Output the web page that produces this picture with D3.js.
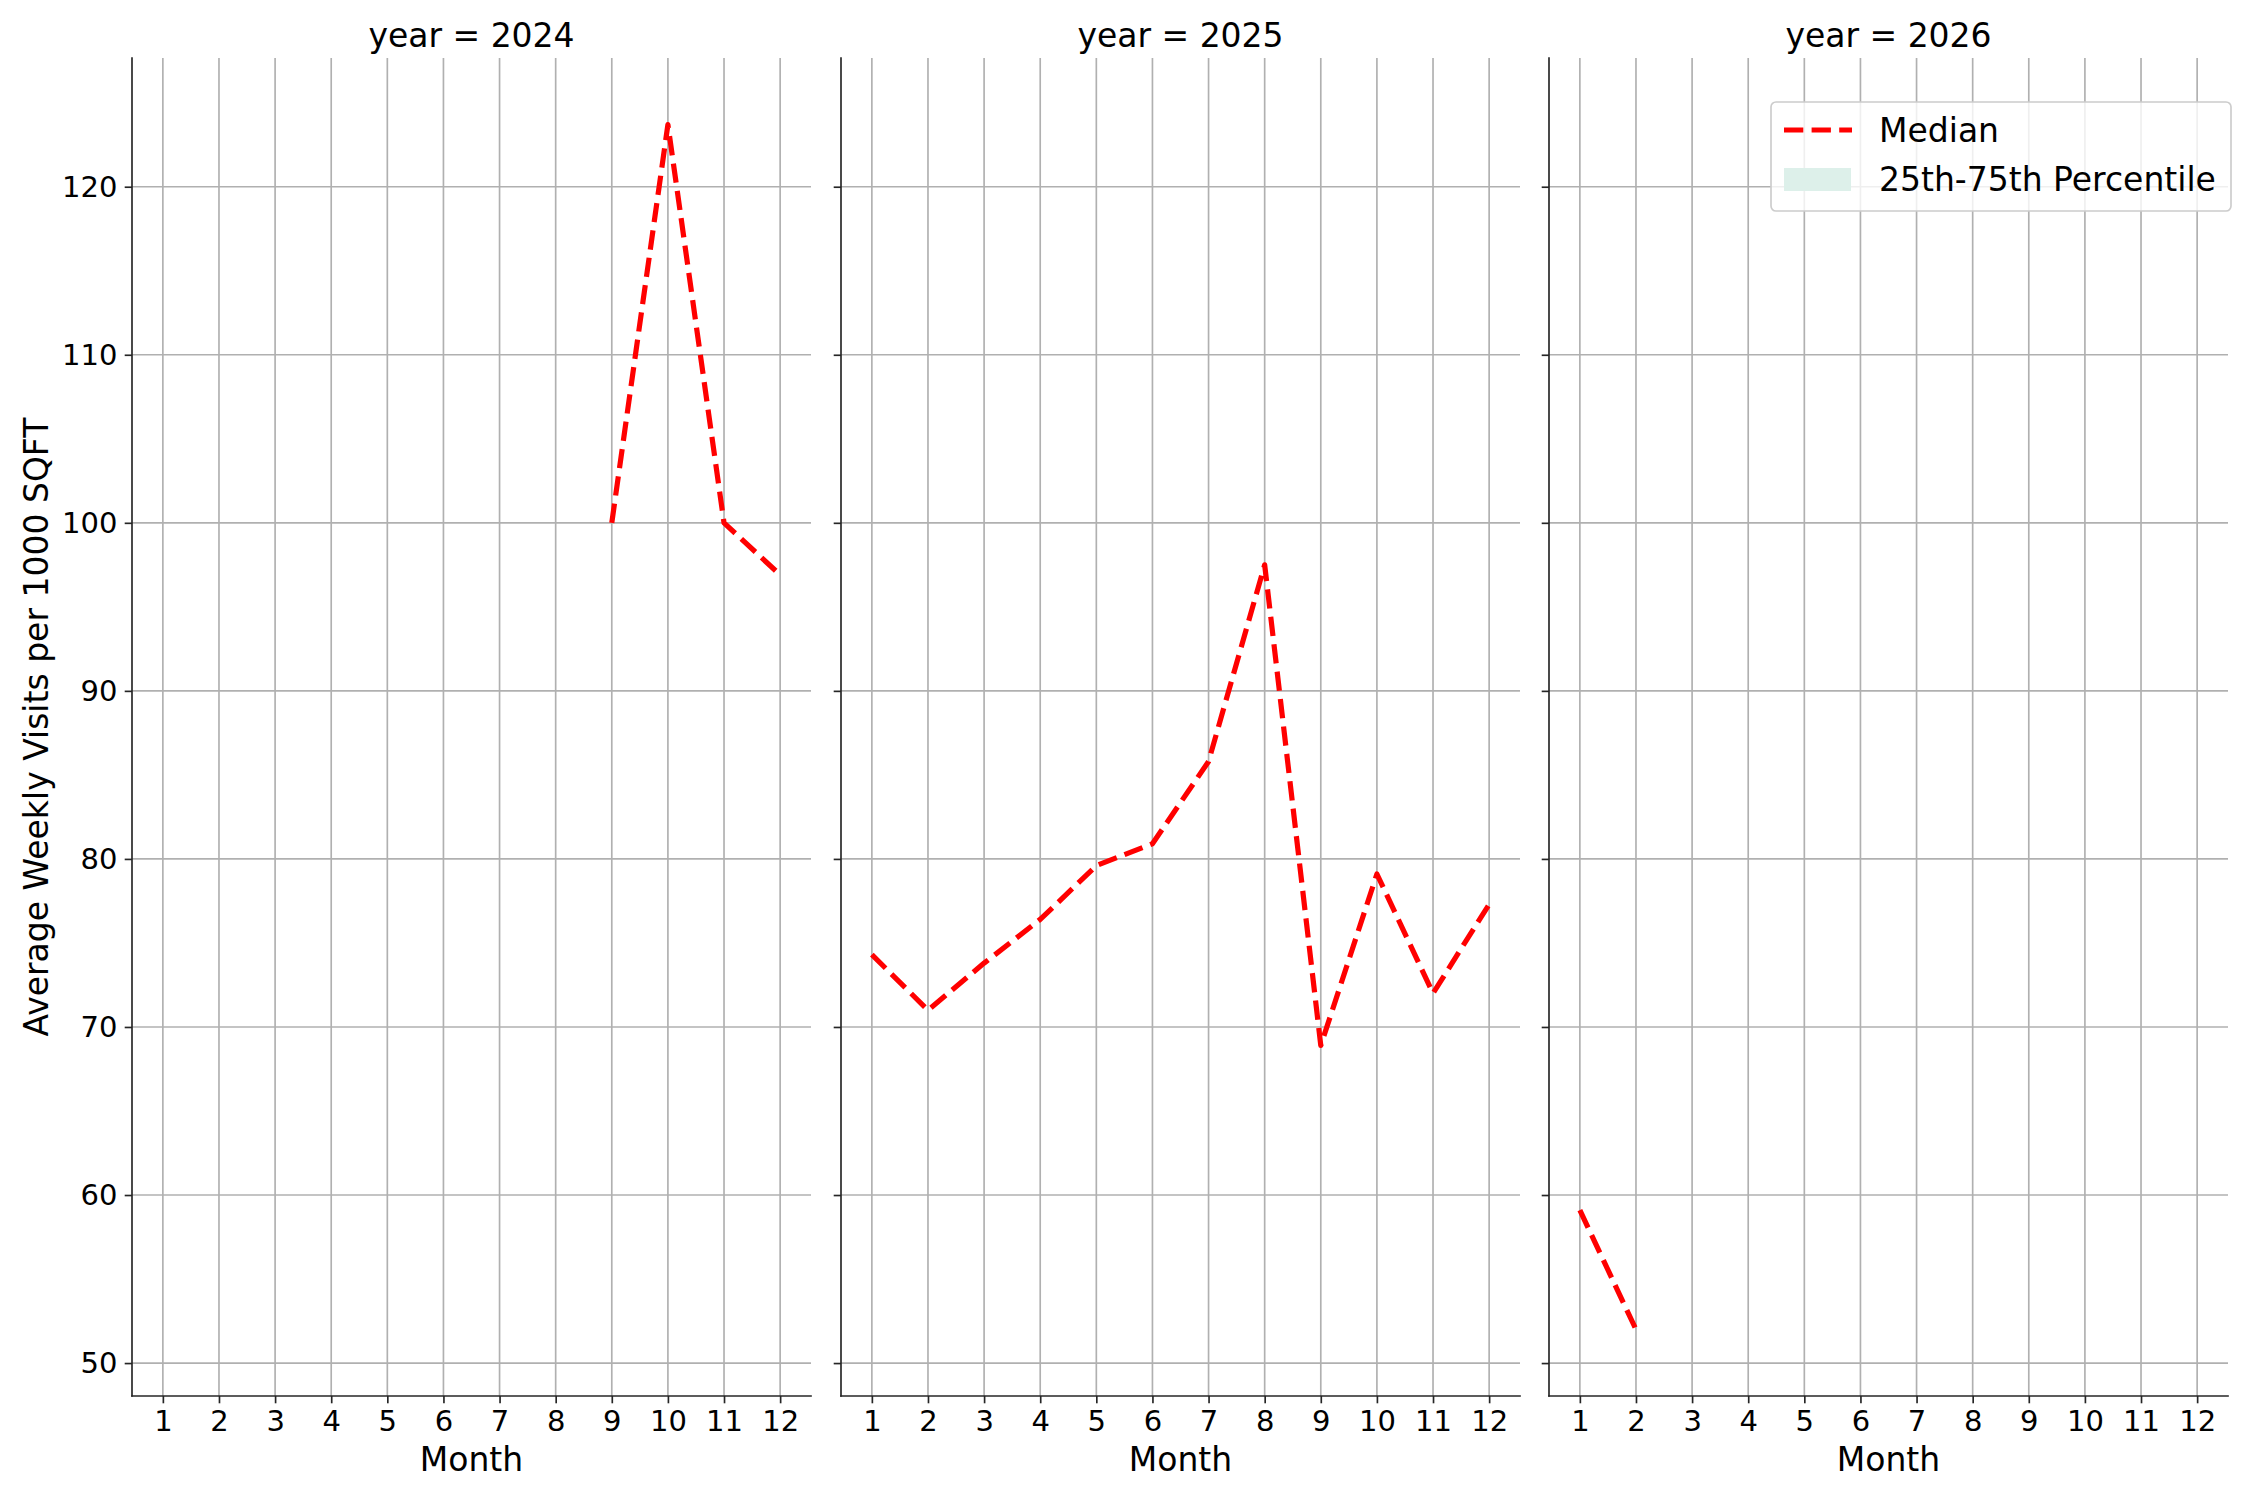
<!DOCTYPE html>
<html>
<head>
<meta charset="utf-8">
<script src="https://cdn.jsdelivr.net/npm/d3@7"></script>
<style>
  html, body { margin: 0; padding: 0; background: #fff; }
  svg { display: block; font-family: "DejaVu Sans", sans-serif; }
</style>
</head>
<body>
<svg id="chart" width="2250" height="1500"></svg>
<script>
// ---- data ----
const years = [2024, 2025, 2026];
const monthTicks = [1, 2, 3, 4, 5, 6, 7, 8, 9, 10, 11, 12];
const yTicks = [50, 60, 70, 80, 90, 100, 110, 120];

const months2024 = [9, 10, 11, 12];
const median2024 = [100.0, 123.7, 100.0, 96.9];

const months2025 = [1, 2, 3, 4, 5, 6, 7, 8, 9, 10, 11, 12];
const median2025 = [74.3, 71.0, 73.8, 76.4, 79.6, 80.9, 85.8, 97.5, 68.9, 79.1, 72.0, 77.3];

const months2026 = [1, 2];
const median2026 = [59.1, 52.0];

const legendLabels = ["Median", "25th-75th Percentile"];
const xLabel = "Month";
const yLabel = "Average Weekly Visits per 1000 SQFT";

const series = [
  { year: years[0], months: months2024, values: median2024 },
  { year: years[1], months: months2025, values: median2025 },
  { year: years[2], months: months2026, values: median2026 }
];

// ---- layout ----
const svg = d3.select("#chart");
const panelLefts = [132, 841, 1549];
const panelWidth = 679;
const plotTop = 58, plotBottom = 1396;
const tickLen = 7.3, tickPad = 7.3;
const gridColor = "#b0b0b0";
const spineColor = "#262626";
const lineW = 1.67;

const y = d3.scaleLinear().domain([48.04, 127.66]).range([plotBottom, plotTop]);

series.forEach((s, i) => {
  const x0 = panelLefts[i];
  const x = d3.scaleLinear().domain([0.45, 12.55]).range([x0, x0 + panelWidth]);
  const g = svg.append("g");

  // grid
  g.append("g").selectAll("line").data(monthTicks).join("line")
    .attr("x1", d => x(d)).attr("x2", d => x(d))
    .attr("y1", plotTop).attr("y2", plotBottom)
    .attr("stroke", gridColor).attr("stroke-width", lineW);
  g.append("g").selectAll("line").data(yTicks).join("line")
    .attr("x1", x0).attr("x2", x0 + panelWidth)
    .attr("y1", d => y(d)).attr("y2", d => y(d))
    .attr("stroke", gridColor).attr("stroke-width", lineW);

  // median line
  const pts = s.months.map((m, k) => [m, s.values[k]]);
  g.append("path")
    .datum(pts)
    .attr("d", d3.line().x(d => x(d[0])).y(d => y(d[1])))
    .attr("fill", "none")
    .attr("stroke", "#ff0000")
    .attr("stroke-width", 5.2)
    .attr("stroke-dasharray", "19.3,8.3")
    .attr("stroke-linejoin", "round");

  // x axis
  const xAxis = d3.axisBottom(x).tickValues(monthTicks).tickFormat(d3.format("d"))
    .tickSize(tickLen).tickPadding(tickPad).tickSizeOuter(0);
  const xg = g.append("g").attr("transform", `translate(0,${plotBottom})`).call(xAxis);
  xg.select(".domain").remove();
  xg.selectAll(".tick line").attr("stroke", spineColor).attr("stroke-width", lineW);
  xg.selectAll(".tick text").attr("fill", "#000").style("font-size", "29px")
    .style("font-family", "DejaVu Sans");

  // y axis
  const yAxis = d3.axisLeft(y).tickValues(yTicks).tickFormat(d3.format("d"))
    .tickSize(tickLen).tickPadding(tickPad).tickSizeOuter(0);
  const yg = g.append("g").attr("transform", `translate(${x0},0)`).call(yAxis);
  yg.select(".domain").remove();
  yg.selectAll(".tick line").attr("stroke", spineColor).attr("stroke-width", lineW);
  yg.selectAll(".tick text").attr("fill", "#000").style("font-size", "29px")
    .style("font-family", "DejaVu Sans");
  if (i > 0) yg.selectAll(".tick text").remove();

  // spines
  g.append("line").attr("x1", x0).attr("x2", x0).attr("y1", plotTop).attr("y2", plotBottom)
    .attr("stroke", spineColor).attr("stroke-width", lineW).attr("stroke-linecap", "square");
  g.append("line").attr("x1", x0).attr("x2", x0 + panelWidth).attr("y1", plotBottom).attr("y2", plotBottom)
    .attr("stroke", spineColor).attr("stroke-width", lineW).attr("stroke-linecap", "square");

  // title
  g.append("text").attr("x", x0 + panelWidth / 2).attr("y", 47)
    .attr("text-anchor", "middle").style("font-size", "33px").attr("fill", "#000")
    .text(`year = ${s.year}`);

  // x label
  g.append("text").attr("x", x0 + panelWidth / 2).attr("y", 1471)
    .attr("text-anchor", "middle").style("font-size", "33px").attr("fill", "#000")
    .text(xLabel);
});

// y label
svg.append("text")
  .attr("transform", `translate(47.5,727) rotate(-90)`)
  .attr("text-anchor", "middle").style("font-size", "33px").attr("fill", "#000")
  .text(yLabel);

// legend
const lg = svg.append("g");
lg.append("rect").attr("x", 1771).attr("y", 102).attr("width", 460).attr("height", 109)
  .attr("rx", 5).attr("ry", 5)
  .attr("fill", "#fff").attr("fill-opacity", 0.8)
  .attr("stroke", "#cccccc").attr("stroke-width", 1.67);
lg.append("line").attr("x1", 1784).attr("x2", 1852).attr("y1", 130).attr("y2", 130)
  .attr("stroke", "#ff0000").attr("stroke-width", 5.2).attr("stroke-dasharray", "19.3,8.3");
lg.append("rect").attr("x", 1784).attr("y", 168).attr("width", 67).attr("height", 23)
  .attr("fill", "#ddf0ea");
lg.append("text").attr("x", 1879).attr("y", 142).style("font-size", "33px").attr("fill", "#000")
  .text(legendLabels[0]);
lg.append("text").attr("x", 1879).attr("y", 191).style("font-size", "33px").attr("fill", "#000")
  .text(legendLabels[1]);
</script>
</body>
</html>
